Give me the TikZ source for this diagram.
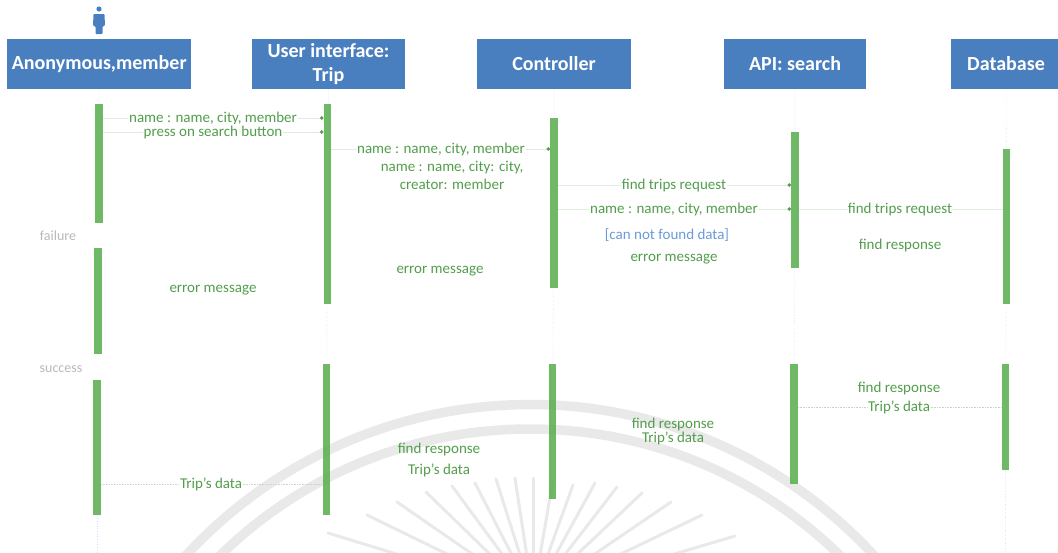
\documentclass[tikz,border=0pt]{standalone}
\usepackage{fontspec}
\setmainfont{Carlito}
\usetikzlibrary{positioning, arrows.meta}
\definecolor{headblue}{HTML}{4A7FBF}
\definecolor{barcol}{HTML}{5BAE50}
\definecolor{msgcol}{HTML}{529E4C}
\definecolor{linecol}{HTML}{DDEDDB}
\definecolor{wmark}{HTML}{E9E9E9}
\definecolor{guardcol}{HTML}{6A9BD8}
\tikzset{
	head/.style={fill=headblue, text=white, font=\fontsize{20}{24}\selectfont\bfseries, minimum height=50pt, inner sep=0pt, align=center},
	bar/.style={fill=barcol, fill opacity=0.88, minimum width=7.5pt, inner sep=0pt, anchor=north},
	life/.style={draw=blue!15, dotted, line width=0.6pt},
	msg/.style={text=msgcol, font=\fontsize{15}{17}\selectfont, inner sep=0.5pt, text height=12pt, text depth=3pt},
	msgw/.style={msg, fill=white},
	frag/.style={text=black!28, font=\fontsize{14}{16}\selectfont, inner sep=0pt, text height=12pt, text depth=3pt},
	wire/.style={draw=linecol, line width=0.6pt},
	call/.style={wire, -{Circle[length=3.5pt, msgcol]}},
	back/.style={draw=msgcol!35, densely dotted, line width=0.6pt},
	ray/.style={draw=wmark, line width=3pt, line cap=round}
}
\begin{document}
\begin{tikzpicture}[x=1pt,y=-1pt,on grid]
		\useasboundingbox (0,0) rectangle (1058,552);
		\begin{scope}
			\clip (0,0) rectangle (1058,552);
			\draw[wmark, line width=9.5pt] (530,872) circle (467.5);
			\draw[wmark, line width=9.5pt] (530,872) circle (443);
			\foreach \tx/\ty in {328/533,367/515,397/502,426/492,452/486,475/483,496/479,515/478,533/478,553/480,573/485,595/483,617/487,642/493,671/502,702/515,735/536}
				\draw[ray] (\tx,\ty) -- (533,596);
		\end{scope}

		\fill[headblue] (99,9) circle (2.6);
		\fill[headblue, rounded corners=1pt] (93.5,14) -- (104.5,14) -- (105,26) -- (102.5,26) -- (102.5,34) -- (95.5,34) -- (95.5,26) -- (93,26) -- cycle;

		\node[head, minimum width=184pt] (anon) at (99.2,64) {Anonymous,member};
		\node[head, minimum width=153pt] (ui) [right=229.3pt of anon] {User interface:\\Trip};
		\node[head, minimum width=154pt] (ctrl) [right=225.5pt of ui] {Controller};
		\node[head, minimum width=142pt] (api) [right=241pt of ctrl] {API: search};
		\node[head, minimum width=110pt] (db) [right=211pt of api] {Database};

		\node[bar, minimum height=119pt] (a1) at (99,104) {};
		\node[bar, minimum height=106pt] (a2) at (98,248) {};
		\node[bar, minimum height=135pt] (a3) at (97,380) {};
		\node[bar, minimum height=200pt] (b1) at (327.5,104) {};
		\node[bar, minimum height=151pt] (b2) at (326.5,364) {};
		\node[bar, minimum height=170pt] (c1) at (554,118) {};
		\node[bar, minimum height=135pt] (c2) at (552.5,364) {};
		\node[bar, minimum height=136pt] (d1) at (795,132) {};
		\node[bar, minimum height=120pt] (d2) at (794,364) {};
		\node[bar, minimum height=155pt] (e1) at (1006.5,149) {};
		\node[bar, minimum height=106pt] (e2) at (1005.5,364) {};
		\coordinate (aend) at (97,552);
		\coordinate (eend) at (1005.5,552);

		\draw[life] (anon) -- (a1);
		\draw[life] (a3) -- (aend);
		\draw[life] (ui) -- (b1) (b1) -- (b2);
		\draw[life] (ctrl) -- (c1) (c1) -- (c2);
		\draw[life] (api) -- (d1) (d1) -- (d2);
		\draw[life] (db) -- (e1) (e1) -- (e2) (e2) -- (eend);

		\node[frag] (fail) at (58,236) {failure};
		\node[frag] (succ) at (61,368) {success};

		\node[msg] (m12) at (213,288) {error message};
		\node[msg] (m4) at (452,166.5) {name : name, city: city,};
		\node[msg] (m5) [below=18pt of m4] {creator: member};
		\node[msg, text=guardcol] (guard) at (667,235) {[can not found data]};
		\node[msg] (m8) at (674,257) {error message};
		\node[msg] (m11) at (440,269) {error message};
		\node[msg] (m13) at (899,388) {find response};
		\node[msg] (m15) at (673,424) {find response};
		\node[msg] (m16) [below=14pt of m15] {Trip's data};
		\node[msg] (m17) at (439,449) {find response};
		\node[msg] (m18) [below=21pt of m17] {Trip's data};
		\node[msgw] (m1) at (213,118) {name : name, city, member};
		\node[msgw] (m2) [below=14pt of m1] {press on search button};
		\node[msgw] (m3) at (441,149) {name : name, city, member};
		\node[msgw] (m6) at (674,185) {find trips request};
		\node[msgw] (m7) [below=24pt of m6] {name : name, city, member};
		\node[msgw] (m9) at (900,209) {find trips request};
		\node[msg] (m10) [below=36pt of m9] {find response};
		\node[msgw] (m14) [below=19pt of m13] {Trip's data};
		\node[msgw] (m19) at (211,484) {Trip's data};

		\draw[wire] (m1.west -| a1.east) -- (m1.west);
		\draw[call] (m1.east) -- (m1.east -| b1.west);
		\draw[wire] (m2.west -| a1.east) -- (m2.west);
		\draw[call] (m2.east) -- (m2.east -| b1.west);
		\draw[wire] (m3.west -| b1.east) -- (m3.west);
		\draw[call] (m3.east) -- (m3.east -| c1.west);
		\draw[wire] (m6.west -| c1.east) -- (m6.west);
		\draw[call] (m6.east) -- (m6.east -| d1.west);
		\draw[wire] (m7.west -| c1.east) -- (m7.west);
		\draw[call] (m7.east) -- (m7.east -| d1.west);
		\draw[wire] (m9.west -| d1.east) -- (m9.west);
		\draw[wire] (m9.east) -- (m9.east -| e1.west);
		\draw[back] (m14.west -| d2.east) -- (m14.west);
		\draw[back] (m14.east) -- (m14.east -| e2.west);
		\draw[back] (m19.west -| a3.east) -- (m19.west);
		\draw[back] (m19.east) -- (m19.east -| b2.west);
		\end{tikzpicture}
\end{document}
